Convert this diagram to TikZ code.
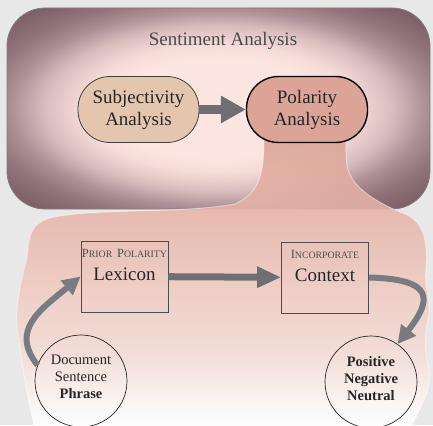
\documentclass[tikz,border=0pt]{standalone}
\usepackage{fontspec}
\setmainfont{Liberation Serif}
\usetikzlibrary{arrows.meta,positioning}

\definecolor{bggray}{HTML}{E8E8E8}
\definecolor{boxrim}{HTML}{857A7E}
\definecolor{subjfill}{HTML}{E4C6AE}
\definecolor{polfill}{HTML}{DBA497}
\definecolor{arrowgray}{HTML}{6E6F73}
\definecolor{bendgray}{HTML}{797B80}
\definecolor{titlegray}{HTML}{4A4A4A}

% glow of the upper box
\definecolor{glowin}{HTML}{FDE6E1}
\definecolor{glowa}{HTML}{F6DCD8}
\definecolor{glowb}{HTML}{D9BDBE}
\definecolor{glowc}{HTML}{AD9096}
\definecolor{glowd}{HTML}{92757C}
\definecolor{glowout}{HTML}{6E5058}
\pgfdeclareradialshading{boxglow}{\pgfpoint{0bp}{0bp}}{color(0bp)=(glowin); color(12bp)=(glowin); color(16bp)=(glowa); color(20.5bp)=(glowb); color(24.5bp)=(glowc); color(28bp)=(glowd); color(36bp)=(glowout); color(50bp)=(glowout)}

% pink region below
\definecolor{blobwhite}{HTML}{FFFFFF}
\definecolor{bloba}{HTML}{FCF3F0}
\definecolor{blobb}{HTML}{F5DDD7}
\definecolor{blobc}{HTML}{EEC8BF}
\definecolor{blobd}{HTML}{E7B4A8}
\definecolor{blobtop}{HTML}{DBA295}
\pgfdeclareverticalshading{blobfade}{100bp}{color(0bp)=(blobwhite); color(26bp)=(blobwhite); color(30bp)=(bloba); color(37bp)=(blobb); color(50bp)=(blobc); color(62bp)=(blobd); color(75bp)=(blobtop); color(100bp)=(blobtop)}

\newcommand\capword[2]{{\fontsize{12.5}{14}\selectfont #1}{\fontsize{9.8}{14}\selectfont #2}}

\begin{document}
\begin{tikzpicture}[
    x=1pt, y=-1pt,
    every node/.style={font=\fontsize{19}{22}\selectfont, text=black!85},
    analysis/.style={draw, rounded corners=32pt, minimum width=121pt,
        minimum height=66pt, align=center, inner sep=0pt},
    stagebox/.style={draw=black!70, line width=0.8pt, minimum width=87pt,
        minimum height=71pt, inner sep=0pt},
    stagetext/.style={align=center, inner sep=0pt,
        font=\fontsize{19}{23}\selectfont},
    levelcircle/.style={circle, draw=black!85, line width=0.7pt,
        minimum size=92pt, inner sep=0pt, align=center,
        font=\fontsize{14.5}{17}\selectfont},
    bigarrow/.style={draw=arrowgray, line width=9pt,
        -{Triangle[length=25pt,width=26pt]}},
    flatarrow/.style={draw=arrowgray, line width=7pt,
        -{Triangle[length=24pt,width=20pt]}},
    bendarrow/.style={draw=bendgray, line width=6pt,
        -{Triangle[length=18pt,width=18pt]}}
]

\useasboundingbox (0,0) rectangle (433,425);
\fill[bggray] (0,0) rectangle (433,425);

% =========================================================
% Sentiment Analysis
% =========================================================

\path[shade, shading=boxglow, draw=boxrim, line width=0.8pt,
    rounded corners=38pt] (7,8) rectangle (430,209);

\node[text=titlegray] (title) at (223,41) {Sentiment Analysis};


% =========================================================
% pink region, from Polarity down
% =========================================================

\path[shade, shading=blobfade, fill opacity=0.88,
    draw=white, draw opacity=0.45, line width=1pt]
    (264,135) .. controls (264,170) and (262,192) .. (235,204)
    .. controls (180,214) and (90,208) .. (50,218)
    .. controls (25,225) and (30,245) .. (26,262)
    .. controls (20,285) and (14,310) .. (18,335)
    .. controls (22,360) and (25,390) .. (34,425)
    -- (412,425)
    .. controls (425,400) and (432,385) .. (429,370)
    .. controls (425,350) and (424,340) .. (428,320)
    .. controls (432,300) and (424,290) .. (426,270)
    .. controls (428,245) and (425,222) .. (405,214)
    .. controls (390,208) and (360,195) .. (350,175)
    .. controls (345,165) and (346,150) .. (346,135) -- cycle;


% =========================================================
% Subjectivity -> Polarity
% =========================================================

\node[analysis, fill=subjfill, draw=black!75, line width=0.8pt]
    (subj) at (138.5,109.5) {Subjectivity\\Analysis};
\node[analysis, fill=polfill, draw=black, line width=1.4pt]
    (pol) at (307,109.5) {Polarity\\Analysis};

\draw[bigarrow] (subj) -- (pol);


% =========================================================
% Lexicon -> Context
% =========================================================

\node[stagebox] (lexicon) at (124.5,276.5) {};
\node[stagetext] (lexlabel) at ([yshift=12pt]lexicon.center)
    {{\color{black!70}\capword{P}{RIOR} \capword{P}{OLARITY}}\\Lexicon};

\node[stagebox] (context) at (325,277.5) {};
\node[stagetext] (ctxlabel) at ([yshift=12pt]context.center)
    {{\color{black!70}\capword{I}{NCORPORATE}}\\Context};

\draw[flatarrow] (lexicon) -- (context);


% =========================================================
% input and output levels
% =========================================================

\node[levelcircle] (units) at (81,381)
    {Document\\Sentence\\\textbf{Phrase}\\[-9pt]};
\node[levelcircle] (labels) at (371,382)
    {\textbf{Positive}\\\textbf{Negative}\\\textbf{Neutral}\\[-9pt]};

\draw[bendarrow] (units.160) .. controls (10,330) and (40,310) .. (lexicon.west);
\draw[bendarrow] (context.east) .. controls (435,279) and (432,300) .. (labels.55);

\end{tikzpicture}
\end{document}
